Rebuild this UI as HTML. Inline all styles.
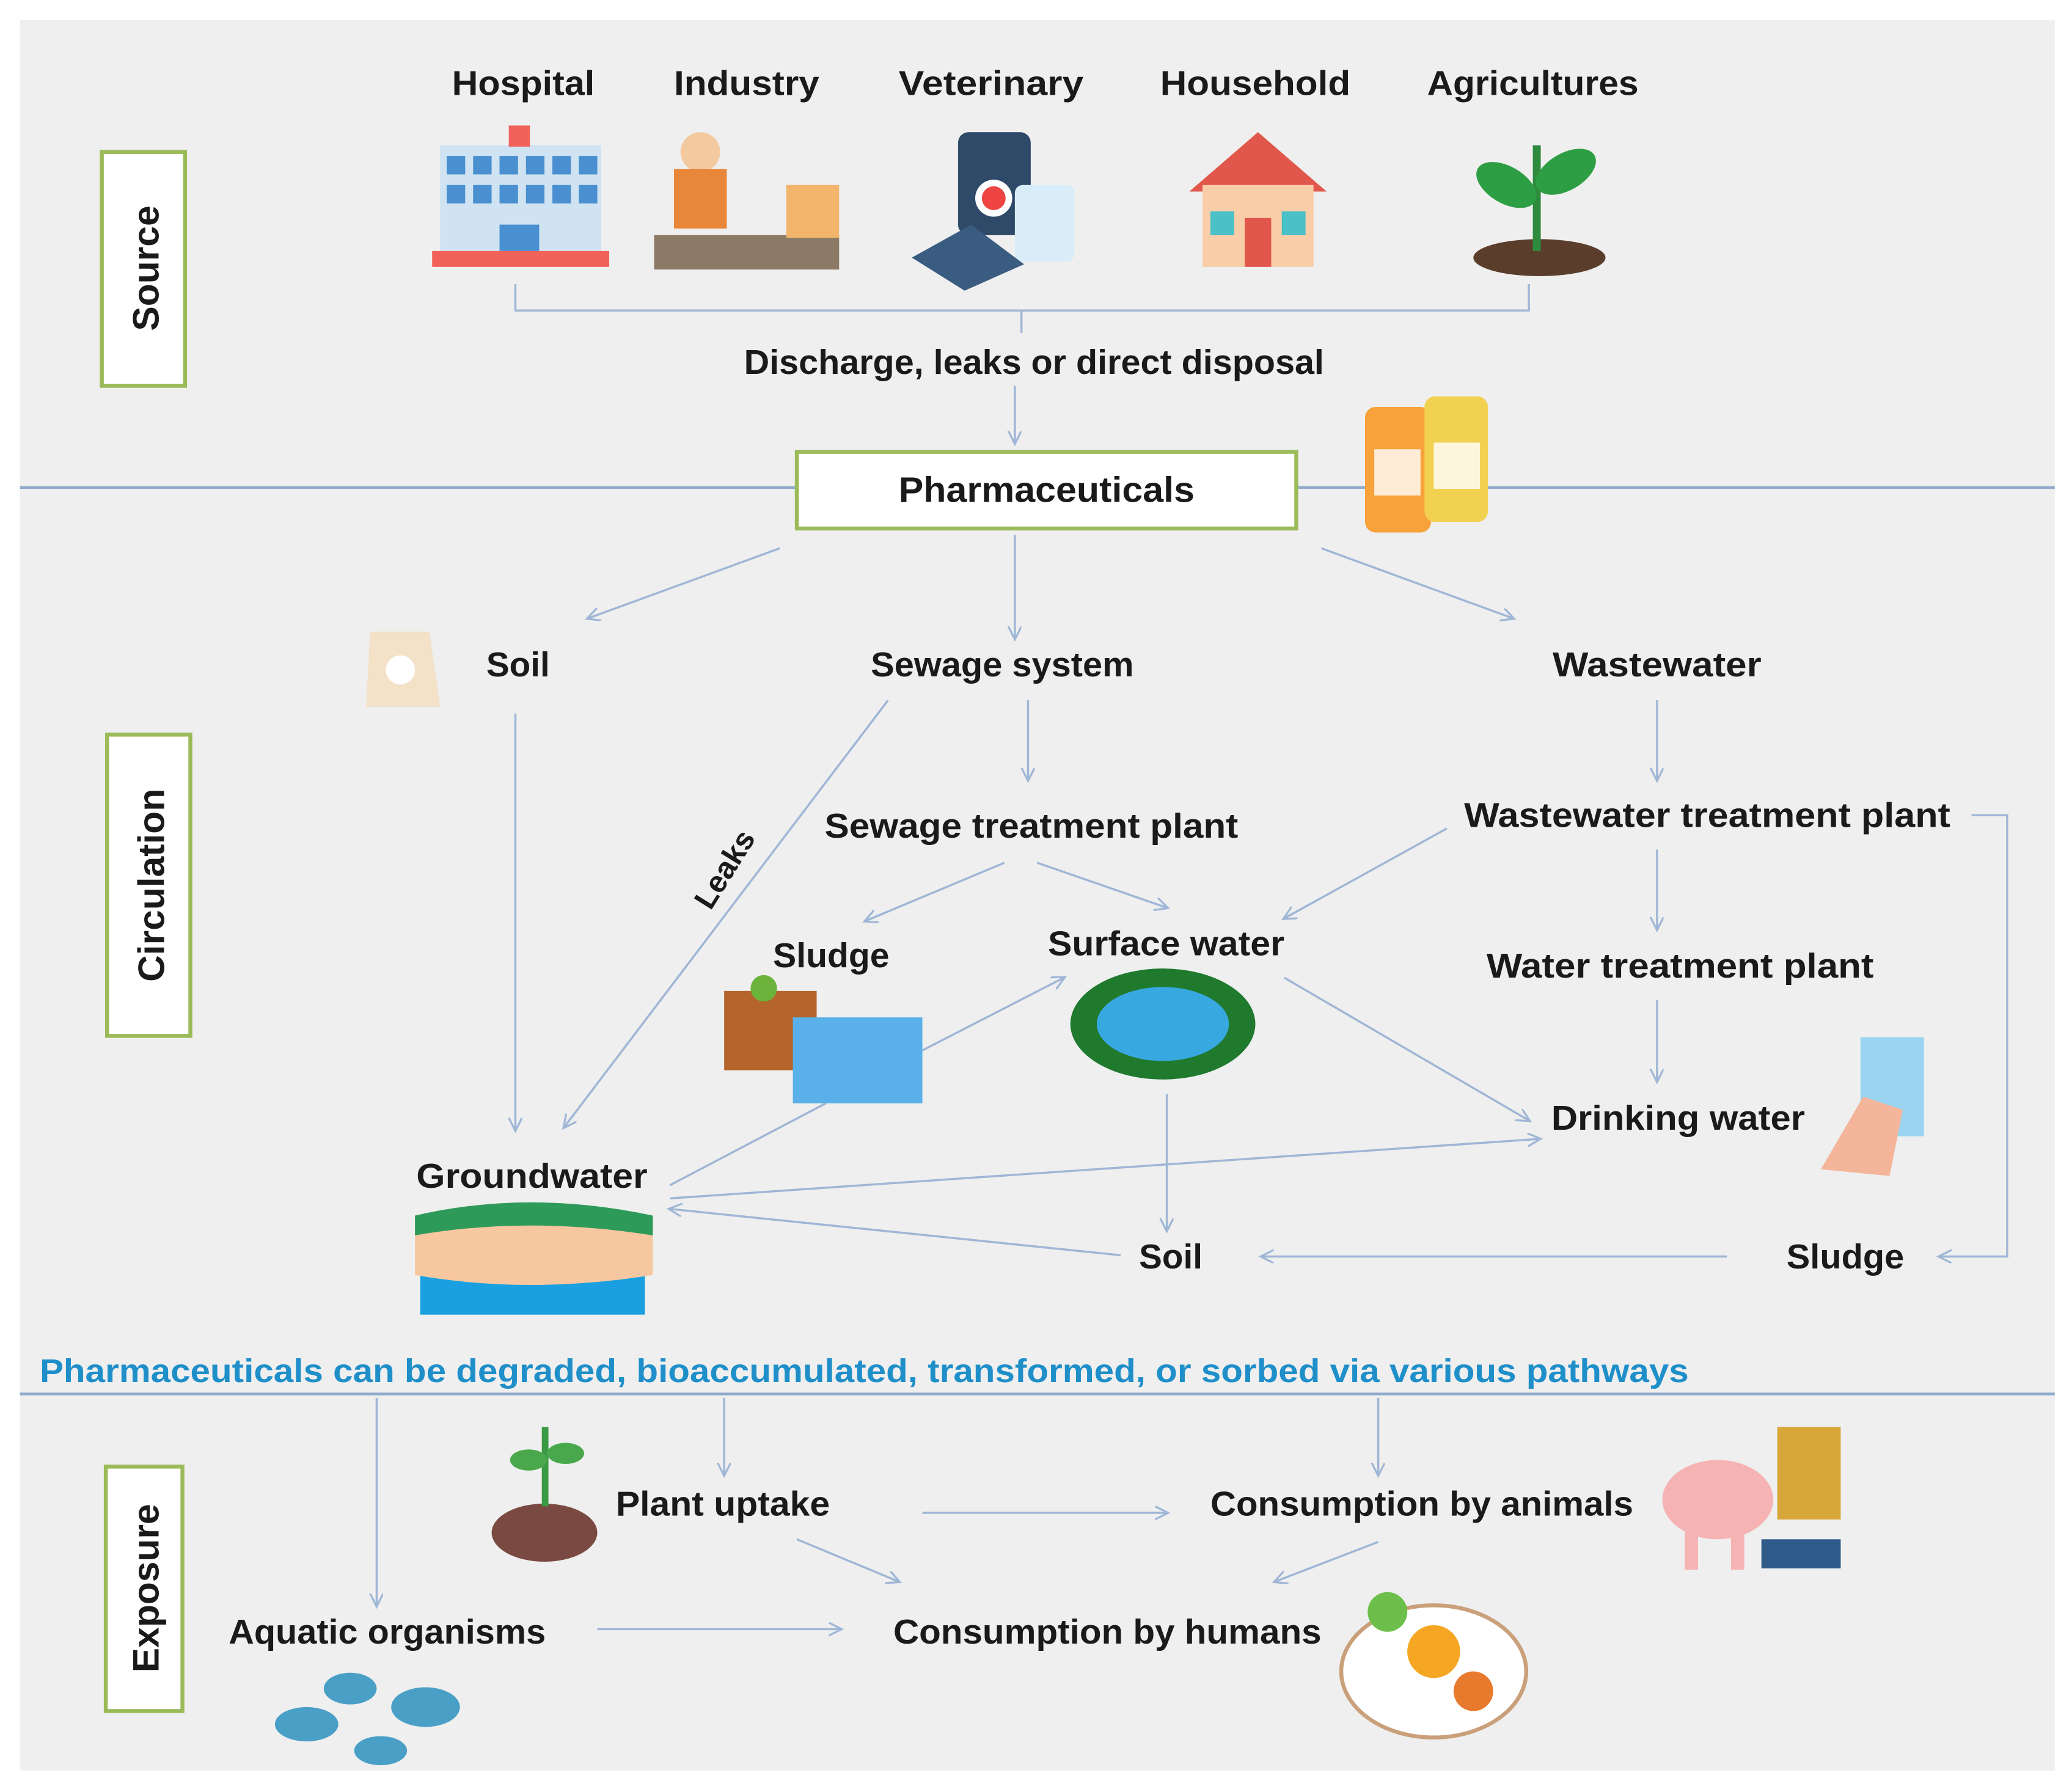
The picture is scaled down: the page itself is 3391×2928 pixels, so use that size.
<!DOCTYPE html>
<html><head><meta charset="utf-8"><style>
html,body{margin:0;padding:0;background:#fff;}
svg{display:block;}
text{font-family:"Liberation Sans",sans-serif;font-weight:bold;fill:#1a1a1a;}
</style></head><body>
<svg width="3391" height="2928" viewBox="0 0 1568 1354" xmlns="http://www.w3.org/2000/svg">
<defs>
<marker id="a" markerWidth="12" markerHeight="12" refX="9" refY="5" orient="auto" markerUnits="userSpaceOnUse">
<path d="M0,0 L10,5 L0,10" fill="none" stroke="#9fb6d6" stroke-width="1.5"/>
</marker>
</defs>
<rect x="0" y="0" width="1568" height="1354" fill="#fff"/>
<rect x="15" y="15" width="1540" height="1325" fill="#efefef"/>
<line x1="15" y1="369" x2="1555" y2="369" stroke="#8eaacc" stroke-width="2"/>
<line x1="15" y1="1055" x2="1555" y2="1055" stroke="#8eaacc" stroke-width="2"/>

<rect x="77" y="115" width="63" height="177" fill="#fff" stroke="#9bbb59" stroke-width="3"/>
<text transform="translate(120,203) rotate(-90)" font-size="28" text-anchor="middle">Source</text>
<rect x="81" y="556" width="63" height="228" fill="#fff" stroke="#9bbb59" stroke-width="3"/>
<text transform="translate(124,670) rotate(-90)" font-size="28" text-anchor="middle">Circulation</text>
<rect x="80" y="1110" width="58" height="185" fill="#fff" stroke="#9bbb59" stroke-width="3"/>
<text transform="translate(120,1202) rotate(-90)" font-size="28" text-anchor="middle">Exposure</text>

<g font-size="26" lengthAdjust="spacingAndGlyphs">
<text x="342" y="72" textLength="108" lengthAdjust="spacingAndGlyphs">Hospital</text>
<text x="510" y="72" textLength="110" lengthAdjust="spacingAndGlyphs">Industry</text>
<text x="680" y="72" textLength="140" lengthAdjust="spacingAndGlyphs">Veterinary</text>
<text x="878" y="72" textLength="144" lengthAdjust="spacingAndGlyphs">Household</text>
<text x="1080" y="72" textLength="160" lengthAdjust="spacingAndGlyphs">Agricultures</text>
<text x="563" y="283" textLength="439" lengthAdjust="spacingAndGlyphs">Discharge, leaks or direct disposal</text>
<text x="368" y="512" textLength="48" lengthAdjust="spacingAndGlyphs">Soil</text>
<text x="659" y="512" textLength="199" lengthAdjust="spacingAndGlyphs">Sewage system</text>
<text x="1175" y="512" textLength="158" lengthAdjust="spacingAndGlyphs">Wastewater</text>
<text x="624" y="634" textLength="313" lengthAdjust="spacingAndGlyphs">Sewage treatment plant</text>
<text x="1108" y="626" textLength="368" lengthAdjust="spacingAndGlyphs">Wastewater treatment plant</text>
<text x="585" y="732" textLength="88" lengthAdjust="spacingAndGlyphs">Sludge</text>
<text x="793" y="723" textLength="179" lengthAdjust="spacingAndGlyphs">Surface water</text>
<text x="1125" y="740" textLength="293" lengthAdjust="spacingAndGlyphs">Water treatment plant</text>
<text x="1174" y="855" textLength="192" lengthAdjust="spacingAndGlyphs">Drinking water</text>
<text x="315" y="899" textLength="175" lengthAdjust="spacingAndGlyphs">Groundwater</text>
<text x="862" y="960" textLength="48" lengthAdjust="spacingAndGlyphs">Soil</text>
<text x="1352" y="960" textLength="89" lengthAdjust="spacingAndGlyphs">Sludge</text>
<text x="466" y="1147" textLength="162" lengthAdjust="spacingAndGlyphs">Plant uptake</text>
<text x="916" y="1147" textLength="320" lengthAdjust="spacingAndGlyphs">Consumption by animals</text>
<text x="173" y="1244" textLength="240" lengthAdjust="spacingAndGlyphs">Aquatic organisms</text>
<text x="676" y="1244" textLength="324" lengthAdjust="spacingAndGlyphs">Consumption by humans</text>
</g>
<text transform="translate(555,662) rotate(-58)" font-size="23" text-anchor="middle">Leaks</text>
<text x="30" y="1046" font-size="25" textLength="1248" lengthAdjust="spacingAndGlyphs" style="fill:#1f8fc9">Pharmaceuticals can be degraded, bioaccumulated, transformed, or sorbed via various pathways</text>

<rect x="603" y="342" width="378" height="58" fill="#fff" stroke="#9bbb59" stroke-width="3"/>
<text x="680" y="380" font-size="27" textLength="224" lengthAdjust="spacingAndGlyphs">Pharmaceuticals</text>

<g stroke="#9fb6d6" stroke-width="1.6" fill="none">
<path d="M390,215 V235 H1157 V215"/>
<line x1="773" y1="235" x2="773" y2="252"/>
<line x1="768" y1="292" x2="768" y2="335" marker-end="url(#a)"/>
<line x1="590" y1="415" x2="445" y2="468" marker-end="url(#a)"/>
<line x1="768" y1="405" x2="768" y2="483" marker-end="url(#a)"/>
<line x1="1000" y1="415" x2="1145" y2="468" marker-end="url(#a)"/>
<line x1="390" y1="540" x2="390" y2="855" marker-end="url(#a)"/>
<line x1="672" y1="530" x2="427" y2="853" marker-end="url(#a)"/>
<line x1="778" y1="530" x2="778" y2="590" marker-end="url(#a)"/>
<line x1="1254" y1="530" x2="1254" y2="590" marker-end="url(#a)"/>
<path d="M1492,617 H1519 V951 H1468" marker-end="url(#a)"/>
<line x1="760" y1="653" x2="655" y2="697" marker-end="url(#a)"/>
<line x1="785" y1="653" x2="883" y2="687" marker-end="url(#a)"/>
<line x1="1095" y1="627" x2="972" y2="695" marker-end="url(#a)"/>
<line x1="1254" y1="643" x2="1254" y2="703" marker-end="url(#a)"/>
<line x1="1254" y1="757" x2="1254" y2="818" marker-end="url(#a)"/>
<line x1="698" y1="795" x2="805" y2="740" marker-end="url(#a)"/>
<line x1="972" y1="740" x2="1157" y2="848" marker-end="url(#a)"/>
<line x1="883" y1="828" x2="883" y2="931" marker-end="url(#a)"/>
<line x1="507" y1="897" x2="625" y2="835"/>
<line x1="507" y1="907" x2="1165" y2="862" marker-end="url(#a)"/>
<line x1="848" y1="950" x2="507" y2="915" marker-end="url(#a)"/>
<line x1="1307" y1="951" x2="955" y2="951" marker-end="url(#a)"/>
<line x1="285" y1="1058" x2="285" y2="1215" marker-end="url(#a)"/>
<line x1="548" y1="1058" x2="548" y2="1116" marker-end="url(#a)"/>
<line x1="1043" y1="1058" x2="1043" y2="1116" marker-end="url(#a)"/>
<line x1="698" y1="1145" x2="883" y2="1145" marker-end="url(#a)"/>
<line x1="603" y1="1165" x2="680" y2="1197" marker-end="url(#a)"/>
<line x1="1043" y1="1167" x2="965" y2="1197" marker-end="url(#a)"/>
<line x1="452" y1="1233" x2="636" y2="1233" marker-end="url(#a)"/>
</g>

<rect x="333" y="110" width="122" height="80" fill="#cfe3f2"/>
<rect x="327" y="190" width="134" height="12" fill="#f0625a"/>
<rect x="385" y="95" width="16" height="16" fill="#f0625a"/>
<g fill="#4a90d0"><rect x="338" y="118" width="14" height="14"/><rect x="358" y="118" width="14" height="14"/><rect x="378" y="118" width="14" height="14"/><rect x="398" y="118" width="14" height="14"/><rect x="418" y="118" width="14" height="14"/><rect x="438" y="118" width="14" height="14"/><rect x="338" y="140" width="14" height="14"/><rect x="358" y="140" width="14" height="14"/><rect x="378" y="140" width="14" height="14"/><rect x="398" y="140" width="14" height="14"/><rect x="418" y="140" width="14" height="14"/><rect x="438" y="140" width="14" height="14"/><rect x="378" y="170" width="30" height="20"/></g>
<rect x="495" y="178" width="140" height="26" fill="#8a7a66"/>
<circle cx="530" cy="115" r="15" fill="#f3c9a0"/><rect x="510" y="128" width="40" height="45" fill="#e8873a"/>
<rect x="595" y="140" width="40" height="40" fill="#f2b56b"/>
<rect x="725" y="100" width="55" height="78" rx="8" fill="#2f4a68"/>
<circle cx="752" cy="150" r="14" fill="#fff"/><circle cx="752" cy="150" r="9" fill="#e44"/>
<rect x="768" y="140" width="45" height="58" rx="6" fill="#d8edf7"/>
<polygon points="690,195 735,170 775,200 730,220" fill="#3a5c80"/>
<polygon points="900,145 952,100 1004,145" fill="#e2574c"/>
<rect x="910" y="140" width="84" height="62" fill="#f9cda8"/>
<rect x="942" y="165" width="20" height="37" fill="#e2574c"/>
<rect x="916" y="160" width="18" height="18" fill="#4ac0c7"/><rect x="970" y="160" width="18" height="18" fill="#4ac0c7"/>
<ellipse cx="1165" cy="195" rx="50" ry="14" fill="#5a3e2b"/>
<rect x="1160" y="110" width="6" height="80" fill="#2e8b3e"/>
<ellipse cx="1140" cy="140" rx="25" ry="14" fill="#2e9e44" transform="rotate(30 1140 140)"/>
<ellipse cx="1185" cy="130" rx="25" ry="14" fill="#2e9e44" transform="rotate(-30 1185 130)"/>
<rect x="1033" y="308" width="50" height="95" rx="8" fill="#f7a23b"/>
<rect x="1078" y="300" width="48" height="95" rx="8" fill="#f2d050"/>
<rect x="1040" y="340" width="35" height="35" fill="#fff" opacity=".8"/><rect x="1085" y="335" width="35" height="35" fill="#fff" opacity=".8"/>
<path d="M280,478 L325,478 L333,535 L277,535 Z" fill="#f3e1c8"/>
<circle cx="303" cy="507" r="11" fill="#fff"/>
<rect x="548" y="750" width="70" height="60" fill="#b5652c"/>
<rect x="600" y="770" width="98" height="65" fill="#5ab0e8"/>
<circle cx="578" cy="748" r="10" fill="#6bb33a"/>
<ellipse cx="880" cy="775" rx="70" ry="42" fill="#1f7a2e"/>
<ellipse cx="880" cy="775" rx="50" ry="28" fill="#38a8e0"/>
<rect x="1408" y="785" width="48" height="75" fill="#9bd4f0"/>
<path d="M1378,885 L1410,830 L1440,840 L1430,890 Z" fill="#f5b59a"/>
<rect x="318" y="955" width="170" height="40" fill="#1aa0e0"/>
<path d="M314,925 Q400,905 494,925 L494,965 Q400,980 314,965 Z" fill="#f7c7a0"/>
<path d="M314,920 Q400,900 494,920 L494,935 Q400,920 314,935 Z" fill="#2e9a5a"/>
<ellipse cx="412" cy="1160" rx="40" ry="22" fill="#7a4a42"/>
<rect x="410" y="1080" width="5" height="60" fill="#3a9a44"/>
<ellipse cx="400" cy="1105" rx="14" ry="8" fill="#4aa84c"/><ellipse cx="428" cy="1100" rx="14" ry="8" fill="#4aa84c"/>
<ellipse cx="1300" cy="1135" rx="42" ry="30" fill="#f6b3b3"/>
<rect x="1275" y="1150" width="10" height="38" fill="#f6b3b3"/><rect x="1310" y="1150" width="10" height="38" fill="#f6b3b3"/>
<rect x="1345" y="1080" width="48" height="70" fill="#d9a63a"/>
<rect x="1333" y="1165" width="60" height="22" fill="#2e5a8a"/>
<ellipse cx="1085" cy="1265" rx="70" ry="50" fill="#fff" stroke="#c9a07a" stroke-width="3"/>
<circle cx="1085" cy="1250" r="20" fill="#f5a623"/><circle cx="1050" cy="1220" r="15" fill="#6cbf4a"/><circle cx="1115" cy="1280" r="15" fill="#e87a2e"/>
<g fill="#4a9fc7"><ellipse cx="265" cy="1278" rx="20" ry="12"/><ellipse cx="232" cy="1305" rx="24" ry="13"/><ellipse cx="322" cy="1292" rx="26" ry="15"/><ellipse cx="288" cy="1325" rx="20" ry="11"/></g>
</svg>
</body></html>
